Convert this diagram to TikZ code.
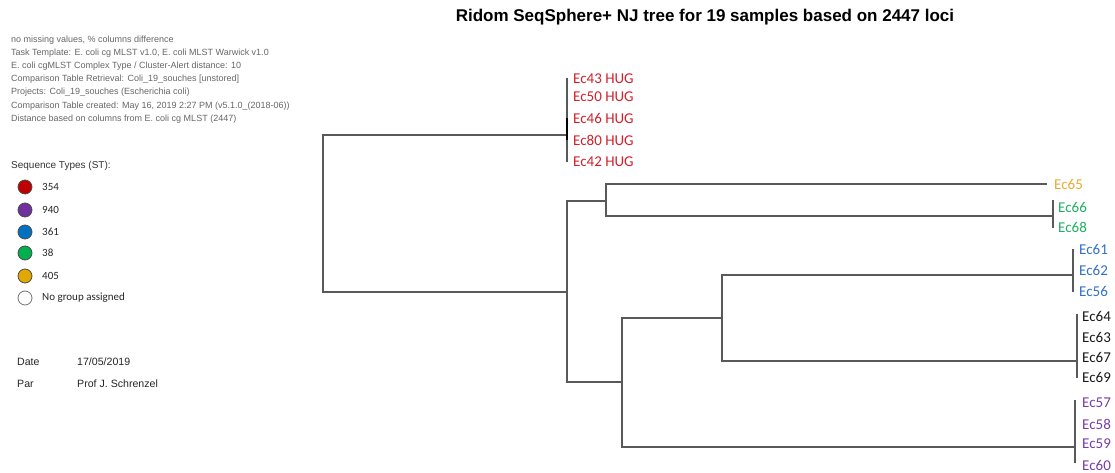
\documentclass[tikz,border=0pt]{standalone}
\usepackage{fontspec}
\setmainfont{Liberation Sans}
\newfontfamily\calib{Carlito}
\usetikzlibrary{positioning}

\definecolor{stred}{HTML}{C00000}
\definecolor{stpurple}{HTML}{7030A0}
\definecolor{stblue}{HTML}{0070C0}
\definecolor{stgreen}{HTML}{00B050}
\definecolor{stamber}{HTML}{E0A800}
\definecolor{lred}{HTML}{D0202A}
\definecolor{lamber}{HTML}{E6AC30}
\definecolor{lgreen}{HTML}{20B060}
\definecolor{lblue}{HTML}{3070C8}
\definecolor{lpurple}{HTML}{7A3CA8}

\begin{document}
\begin{tikzpicture}[x=1pt,y=-1pt,
    info/.style={anchor=west,inner sep=0pt,font=\fontsize{9}{10}\selectfont,text=black!60},
    sign/.style={anchor=west,inner sep=0pt,font=\fontsize{10.6}{12}\selectfont,text=black!85},
    leaf/.style={anchor=west,inner sep=0pt,font=\calib\fontsize{15}{16}\selectfont},
    branch/.style={draw=black!65,line width=1.1pt},
    stdot/.style={circle,draw=black!70,line width=0.8pt,minimum size=14pt,inner sep=0pt},
    sttext/.style={anchor=west,inner sep=0pt,font=\calib\fontsize{11}{12}\selectfont,text=black!85}]
\useasboundingbox (0,0) rectangle (1115,473);

% title and run info
\node[font=\bfseries\fontsize{17}{19}\selectfont] (title) at (705,17) {Ridom SeqSphere+ NJ tree for 19 samples based on 2447 loci};
\node[info] (i1) at (11,40) {no missing values, \% columns difference};
\node[info] (i2) at (11,53) {Task Template: E. coli cg MLST v1.0, E. coli MLST Warwick v1.0};
\node[info] (i3) at (11,66) {E. coli cgMLST Complex Type / Cluster-Alert distance: 10};
\node[info] (i4) at (11,79) {Comparison Table Retrieval: Coli\_19\_souches [unstored]};
\node[info] (i5) at (11,92) {Projects: Coli\_19\_souches (Escherichia coli)};
\node[info] (i6) at (11,106) {Comparison Table created: May 16, 2019 2:27 PM (v5.1.0\_(2018-06))};
\node[info] (i7) at (11,119) {Distance based on columns from E. coli cg MLST (2447)};

% legend
\node[info,text=black!80,font=\fontsize{10}{11}\selectfont] (sthead) at (11,166) {Sequence Types (ST):};
\node[stdot,fill=stred] (d1) at (25,187) {};
\node[stdot,fill=stpurple] (d2) at (25,210) {};
\node[stdot,fill=stblue] (d3) at (25,232) {};
\node[stdot,fill=stgreen] (d4) at (25,253) {};
\node[stdot,fill=stamber] (d5) at (25,276) {};
\node[stdot,fill=white,draw=black!55] (d6) at (25,298) {};
\node[sttext] (t1) at (42,187) {354};
\node[sttext] (t2) at (42,210) {940};
\node[sttext] (t3) at (42,232) {361};
\node[sttext] (t4) at (42,253) {38};
\node[sttext] (t5) at (42,276) {405};
\node[sttext] (t6) at (42,298) {No group assigned};

\node[sign] (date) at (17,362) {Date};
\node[sign] (datev) at (77,362) {17/05/2019};
\node[sign] (par) at (17,384) {Par};
\node[sign] (parv) at (77,384) {Prof J. Schrenzel};

% inner nodes of the tree
\coordinate (r) at (323,213);
\coordinate (h) at (567,135);
\coordinate (a) at (567,292);
\coordinate (b) at (606,201);
\coordinate (c) at (1053,216);
\coordinate (d) at (622,382);
\coordinate (e) at (722,318);
\coordinate (f) at (1073,275);
\coordinate (g) at (1077,361);
\coordinate (k) at (1075,447);

% leaves
\node[leaf,text=lred] (ec43) at (573,79) {Ec43 HUG};
\node[leaf,text=lred] (ec50) at (573,97) {Ec50 HUG};
\node[leaf,text=lred] (ec46) at (573,118) {Ec46 HUG};
\node[leaf,text=lred] (ec80) at (573,140) {Ec80 HUG};
\node[leaf,text=lred] (ec42) at (573,162) {Ec42 HUG};
\node[leaf,text=lamber] (ec65) at (1054,184) {Ec65};
\node[leaf,text=lgreen] (ec66) at (1058,207) {Ec66};
\node[leaf,text=lgreen] (ec68) at (1058,227) {Ec68};
\node[leaf,text=lblue] (ec61) at (1079,249) {Ec61};
\node[leaf,text=lblue] (ec62) at (1079,270) {Ec62};
\node[leaf,text=lblue] (ec56) at (1079,291) {Ec56};
\node[leaf,text=black!90] (ec64) at (1082,316) {Ec64};
\node[leaf,text=black!90] (ec63) at (1082,337) {Ec63};
\node[leaf,text=black!90] (ec67) at (1082,357) {Ec67};
\node[leaf,text=black!90] (ec69) at (1082,377) {Ec69};
\node[leaf,text=lpurple] (ec57) at (1082,403) {Ec57};
\node[leaf,text=lpurple] (ec58) at (1082,424) {Ec58};
\node[leaf,text=lpurple] (ec59) at (1082,444) {Ec59};
\node[leaf,text=lpurple] (ec60) at (1082,465) {Ec60};

% branches
\draw[branch] (r) |- (h);
\draw[branch] (r) |- (a);
\draw[branch] (a) |- (b);
\draw[branch] (a) |- (d);
\draw[branch] (b) |- ([xshift=-7pt]ec65.west);
\draw[branch] (b) |- (c);
\draw[branch] (d) |- (e);
\draw[branch] (d) |- (k);
\draw[branch] (e) |- (f);
\draw[branch] (e) |- (g);

% clade bars
\draw[branch] ([yshift=1pt]h |- ec43.west) -- (h |- ec42.west);
\draw[line width=1.8pt] (h |- ec46.west) -- (h |- ec80.west);
\draw[branch] ([yshift=7pt]c |- ec66.west) -- ([yshift=-1pt]c |- ec68.west);
\draw[branch] (f |- ec61.west) -- ([yshift=-1pt]f |- ec56.west);
\draw[branch] ([yshift=2pt]g |- ec64.west) -- ([yshift=-1pt]g |- ec69.west);
\draw[branch] ([yshift=3pt]k |- ec57.west) -- ([yshift=2pt]k |- ec60.west);
\end{tikzpicture}
\end{document}
